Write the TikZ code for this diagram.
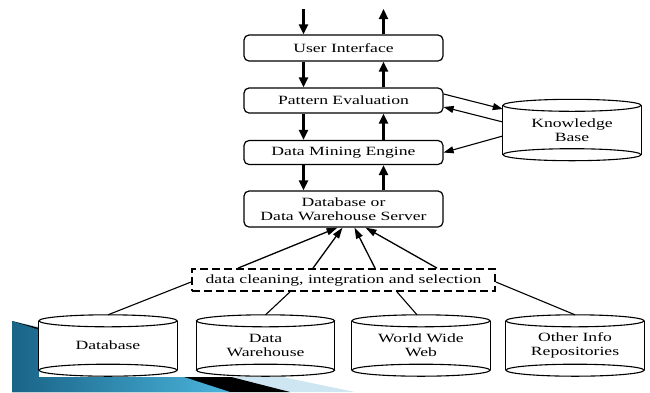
\documentclass[tikz,border=0pt]{standalone}
\usepackage{fontspec}
\setmainfont[FakeStretch=1.4]{Liberation Serif}
\usetikzlibrary{arrows.meta}

\definecolor{slidedark}{RGB}{25,100,135}
\definecolor{slidecyan}{RGB}{75,180,220}
\definecolor{slidepale}{RGB}{205,230,242}

% drum: name, x, y, text
\newcommand{\Drum}[4]{%
  \node[drum] (#1) at (#2,#3) {#4};
  \draw[drumline] (#1.north) ++(0,6) ellipse [x radius=69pt, y radius=6pt];
  \draw[drumline] (#1.south) ++(0,-6) ellipse [x radius=69pt, y radius=6pt];
  \draw[drumline] ([yshift=-6pt]#1.north west) -- ([yshift=6pt]#1.south west);
  \draw[drumline] ([yshift=-6pt]#1.north east) -- ([yshift=6pt]#1.south east);
}

\begin{document}
\begin{tikzpicture}[x=1pt,y=-1pt,
    font=\fontsize{12.6}{14}\selectfont,
    box/.style={draw, rounded corners=5pt, line width=1.2pt, minimum width=199pt,
      inner sep=0pt, align=center},
    drum/.style={minimum width=138pt, minimum height=61pt, inner sep=0pt, align=center},
    drumline/.style={line width=1.1pt},
    flow/.style={line width=2.2pt, -{Triangle[length=10pt,width=9pt]}},
    kbarrow/.style={line width=1.1pt, -{Triangle[length=10pt,width=7pt]}},
    feed/.style={line width=1.3pt, -{Triangle[length=11pt,width=7pt]}}]
  \useasboundingbox (0,0) rectangle (650,392);

  % slide bullet behind the figure
  \fill[slidepale] (12,321) -- (355,392) -- (12,392) -- cycle;
  \fill[black] (12,321) -- (290,392) -- (12,392) -- cycle;
  \shade[left color=slidedark, right color=slidecyan] (12,321) -- (230,392) -- (12,392) -- cycle;
  \fill[white] (39,0) rectangle (650,377);

  % Vertices
  \node[box, minimum height=26pt] (ui) at (343.5,48) {User Interface};
  \node[box, minimum height=25pt] (pe) at (343.5,100.5) {Pattern Evaluation};
  \node[box, minimum height=24pt] (dme) at (343.5,152.5) {Data Mining Engine};
  \node[box, minimum height=36pt] (srv) at (343.5,209) {Database or\\Data Warehouse Server};
  \node[draw, dash pattern=on 8pt off 4pt, line width=1.8pt, minimum width=303pt,
    minimum height=22pt, inner sep=0pt] (dcis) at (343.5,280)
    {data cleaning, integration and selection};
  \Drum{kb}{572}{130}{Knowledge\\Base}
  \Drum{db}{108}{345.5}{Database}
  \Drum{dw}{265.5}{345.5}{Data\\Warehouse}
  \Drum{www}{421}{345.5}{World Wide\\Web}
  \Drum{oir}{575}{345.5}{Other Info\\Repositories}
  \coordinate (query) at (303.5,9);
  \coordinate (result) at (383.5,9);

  % Edges
  \draw[flow] (query) -- (query |- ui.north);
  \draw[flow] (result |- ui.north) -- (result);
  \foreach \a/\b in {ui/pe, pe/dme, dme/srv} {
    \draw[flow] ([xshift=-40pt]\a.south) -- ([xshift=-40pt]\b.north);
    \draw[flow] ([xshift=40pt]\b.north) -- ([xshift=40pt]\a.south);
  }
  \draw[kbarrow] ([yshift=6.5pt]pe.east) -- ([yshift=21pt]kb.west);
  \draw[kbarrow] ([yshift=8pt]kb.west) -- ([yshift=-6.5pt]pe.east);
  \draw[kbarrow] ([yshift=-6pt]kb.west) -- (dme.east);
  \foreach \s/\t in {-105.5/-6, -30.5/-1, 31.5/11, 93.5/22}
    \draw[feed] ([xshift=\s pt]dcis.north) -- ([xshift=\t pt]srv.south);
  \draw[drumline] ([yshift=-2pt]dcis.west) -- (db.north);
  \draw[drumline] ([xshift=-53.5pt]dcis.south) -- (dw.north);
  \draw[drumline] ([xshift=53.5pt]dcis.south) -- ([xshift=-4pt]www.north);
  \draw[drumline] ([yshift=-2pt]dcis.east) -- (oir.north);
\end{tikzpicture}
\end{document}
